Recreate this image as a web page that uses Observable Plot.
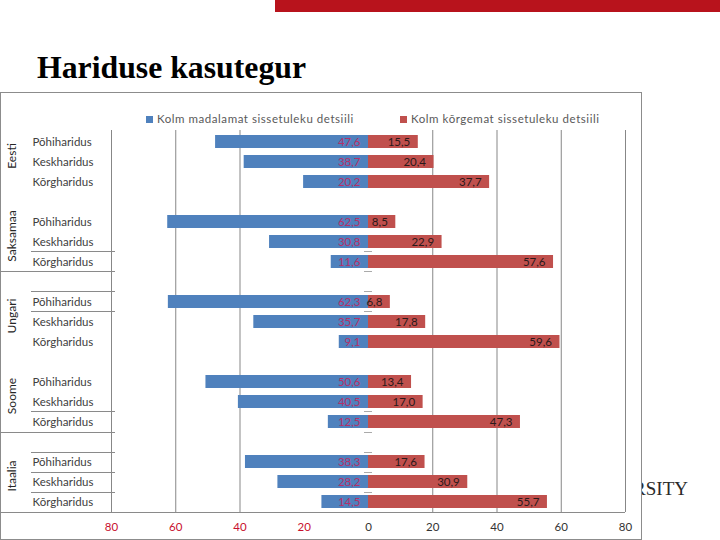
<!DOCTYPE html>
<html>
<head>
<meta charset="utf-8">
<script src="https://cdn.jsdelivr.net/npm/d3@7"></script>
<script src="https://cdn.jsdelivr.net/npm/@observablehq/plot@0.6"></script>
<style>
  html, body { margin: 0; padding: 0; background: #fff; }
  #page { position: relative; width: 720px; height: 540px; overflow: hidden; }
  #deco { position: absolute; left: 0; top: 0; z-index: 0; }
  #frame { position: absolute; left: 0; top: 92px; width: 640px; height: 446px;
           border: 1px solid #8c8c8c; background: #fff; z-index: 1; }
  #chart { position: absolute; left: 0; top: 0; }
  .leg { position: absolute; top: 19px; font: 11.5px Lato, "Open Sans", sans-serif; color: #595959;
         letter-spacing: 0.55px; white-space: nowrap; line-height: 14px; }
  .leg i { display: inline-block; width: 7px; height: 7px; margin-right: 4px; vertical-align: 0px; }
</style>
</head>
<body>
<div id="page">
  <svg id="deco" width="720" height="540">
    <rect x="275" y="0" width="445" height="12" fill="#b8131c"></rect>
    <text x="37" y="78" font-family="Liberation Serif, Times New Roman, serif" font-weight="bold" font-size="31.5" fill="#000" textLength="269" lengthAdjust="spacingAndGlyphs">Hariduse kasutegur</text>
    <text x="688" y="495" text-anchor="end" font-family="Liberation Serif, Times New Roman, serif" font-size="19" fill="#2a2a2a">UNIVERSITY</text>
  </svg>
  <div id="frame">
    <div id="chart"></div>
    <div class="leg" id="leg0" style="left:145px"></div>
    <div class="leg" id="leg1" style="left:399px"></div>
  </div>
</div>
<script>
const countries = ["Eesti", "Saksamaa", "Ungari", "Soome", "Itaalia"];
const levels = ["Põhiharidus", "Keskharidus", "Kõrgharidus"];
const seriesNames = ["Kolm madalamat sissetuleku detsiili", "Kolm kõrgemat sissetuleku detsiili"];
// bottom three income deciles (share, %)
const lowDeciles = [
  [47.6, 38.7, 20.2],
  [62.5, 30.8, 11.6],
  [62.3, 35.7, 9.1],
  [50.6, 40.5, 12.5],
  [38.3, 28.2, 14.5]
];
// top three income deciles (share, %)
const highDeciles = [
  [15.5, 20.4, 37.7],
  [8.5, 22.9, 57.6],
  [6.8, 17.8, 59.6],
  [13.4, 17.0, 47.3],
  [17.6, 30.9, 55.7]
];
const xTicks = [-80, -60, -40, -20, 0, 20, 40, 60, 80];
const gridValues = [-80, -60, -40, 20, 40, 60, 80];

const blue = "#4f81bd", red = "#c0504d";
const fmt = v => v.toFixed(1).replace(".", ",");

// rows (with an empty spacer row between countries)
const rows = [];
const domain = [];
countries.forEach((c, ci) => {
  levels.forEach((l, li) => {
    const key = c + "|" + l;
    domain.push(key);
    rows.push({country: c, level: l, key, low: lowDeciles[ci][li], high: highDeciles[ci][li], li});
  });
  if (ci < countries.length - 1) domain.push("gap" + ci);
});

document.getElementById("leg0").innerHTML = `<i style="background:${blue}"></i>${seriesNames[0]}`;
document.getElementById("leg1").innerHTML = `<i style="background:${red}"></i>${seriesNames[1]}`;

const W = 640, H = 446;
const plot = Plot.plot({
  width: W, height: H,
  marginLeft: 110, marginRight: 16, marginTop: 37, marginBottom: 27,
  style: {fontFamily: "Lato, 'Open Sans', sans-serif", background: "transparent", overflow: "visible"},
  x: {domain: [-80, 80], axis: null},
  y: {domain, axis: null, paddingInner: 0.35, paddingOuter: 0.175},
  marks: [
    Plot.ruleX(gridValues, {x: d => d, stroke: "#878787", strokeWidth: 1}),
    Plot.barX(rows, {y: "key", x1: 0, x2: d => -d.low, fill: blue}),
    Plot.barX(rows, {y: "key", x1: 0, x2: d => d.high, fill: red}),
    Plot.text(rows, {y: "key", x: 0, text: d => fmt(d.low), dx: -8, textAnchor: "end",
      fill: "#b5306a", fontSize: 11.5, letterSpacing: 0.5}),
    Plot.text(rows, {y: "key", x: d => d.high, text: d => fmt(d.high), dx: -8, textAnchor: "end",
      fill: "#2a1a1a", fontSize: 11.5, letterSpacing: 0.5}),
    // category labels
    Plot.text(rows, {y: "key", x: -80, text: "level", dx: -79, textAnchor: "start",
      fill: "#404040", fontSize: 11.5, letterSpacing: 1.0}),
    Plot.text(rows.filter(d => d.li === 1), {y: "key", x: -80, text: "country", dx: -99, dy: -6,
      rotate: -90, fill: "#262626", fontSize: 12, letterSpacing: 0.3}),
    // x tick labels
    Plot.text(xTicks, {x: d => d, text: d => String(Math.abs(d)), frameAnchor: "bottom", dy: 18,
      fill: d => d < 0 ? "#c8102e" : "#333333", fontSize: 11.5, letterSpacing: 0.4})
  ]
});
document.getElementById("chart").appendChild(plot);

// category-axis separators drawn from the y scale
const ys = plot.scale("y");
const r0 = ys.range[0], r1 = ys.range[1];
const step = (r1 - r0) / ys.domain.length;
const xs = plot.scale("x");
const boundaryAfter = key => r0 + (ys.domain.indexOf(key) + 1) * step;
const inner = ["Saksamaa|Keskharidus", "gap1", "Ungari|Põhiharidus", "Soome|Keskharidus", "gap3",
               "Itaalia|Põhiharidus", "Itaalia|Keskharidus"];
const outer = ["Saksamaa|Kõrgharidus", "Soome|Kõrgharidus"];
const svg = d3.select(plot.tagName.toLowerCase() === "svg" ? plot : plot.querySelector("svg"));
const g = svg.append("g").attr("stroke", "#8a8a8a").attr("stroke-width", 1);
const xAxis = xs.apply(-80), x0 = xs.apply(0);
inner.forEach(k => {
  const y = Math.round(boundaryAfter(k)) + 0.5;
  g.append("line").attr("x1", 30).attr("x2", xAxis + 4).attr("y1", y).attr("y2", y);
});
outer.forEach(k => {
  const y = Math.round(boundaryAfter(k)) + 0.5;
  g.append("line").attr("x1", -1).attr("x2", xAxis + 4).attr("y1", y).attr("y2", y);
});
inner.concat(outer).forEach(k => {
  const y = Math.round(boundaryAfter(k)) + 0.5;
  g.append("line").attr("x1", x0 - 4).attr("x2", x0 + 4).attr("y1", y).attr("y2", y).attr("stroke", "#aaa");
});
// bottom axis line (spans category area too)
const yb = Math.round(r1) + 0.5;
g.append("line").attr("x1", -1).attr("x2", xs.apply(80)).attr("y1", yb).attr("y2", yb);
</script>
</body>
</html>
